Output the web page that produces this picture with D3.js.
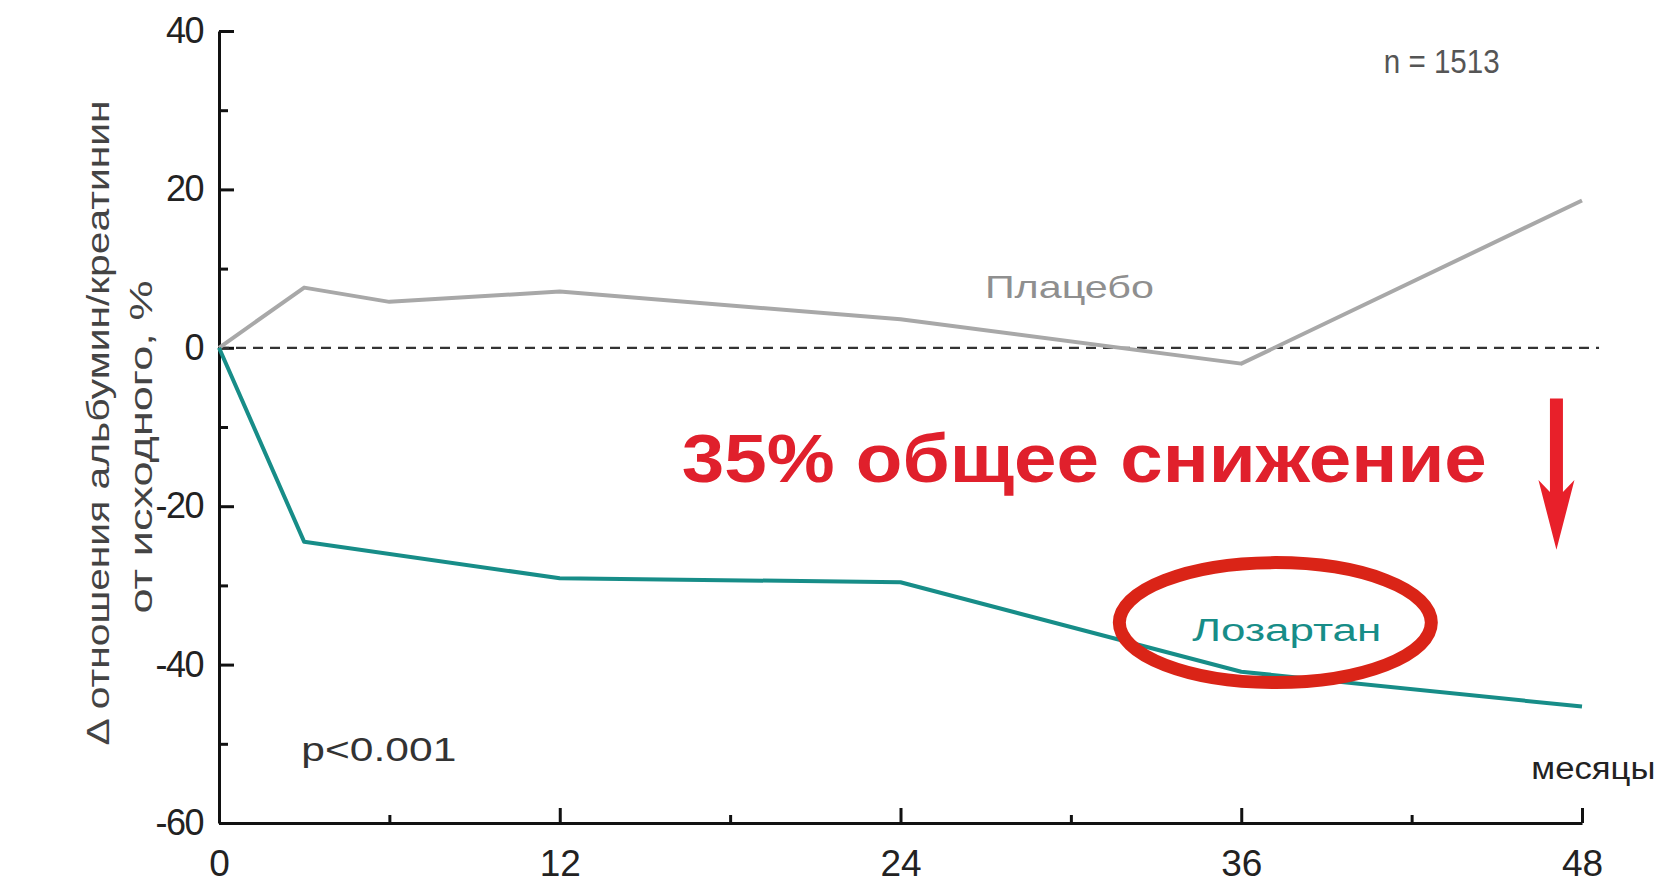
<!DOCTYPE html>
<html>
<head>
<meta charset="utf-8">
<script src="https://cdn.jsdelivr.net/npm/d3@7"></script>
<style>
  body { margin: 0; background: #fff; }
  svg { display: block; }
  text { font-family: "Liberation Sans", Arial, sans-serif; }
</style>
</head>
<body>
<script>
var width = 1659,
    height = 885;

// data
var months = [0, 3, 6, 12, 24, 36, 48];
var placebo = [0, 7.6, 5.8, 7.1, 3.6, -2.0, 18.6];
var losartanMonths = [0, 3, 12, 24, 36, 48];
var losartan = [0, -24.5, -29.1, -29.6, -40.9, -45.3];
var xMajorTicks = [0, 12, 24, 36, 48];
var xMinorTicks = [6, 18, 30, 42];
var yMajorTicks = [-60, -40, -20, 0, 20, 40];
var yMinorTicks = [-50, -30, -10, 10, 30];

var svg = d3.select('body')
    .append('svg')
    .attr('width', width)
    .attr('height', height);

var x = d3.scaleLinear().domain([0, 48]).range([219, 1582]);
var y = d3.scaleLinear().domain([-60, 40]).range([823, 31]);

//minor ticks first, so the major axes draw over them
svg.append("g")
    .attr("transform", "translate(0," + y(-60) + ")")
    .call(d3.axisBottom(x).tickValues(xMinorTicks).tickSizeInner(-8).tickSizeOuter(0).tickFormat(""))
    .call(function (g) { g.select(".domain").remove(); })
    .selectAll("line").attr("stroke", "#111").attr("stroke-width", 3);

svg.append("g")
    .attr("transform", "translate(" + x(0) + ",0)")
    .call(d3.axisLeft(y).tickValues(yMinorTicks).tickSizeInner(-9).tickSizeOuter(0).tickFormat(""))
    .call(function (g) { g.select(".domain").remove(); })
    .selectAll("line").attr("stroke", "#111").attr("stroke-width", 3);

//major axes, ticks pointing inward
var plainNumber = function (d) { return String(d); };

var xAxis = svg.append("g")
    .attr("transform", "translate(0," + y(-60) + ")")
    .call(d3.axisBottom(x).tickValues(xMajorTicks).tickSizeInner(-15).tickSizeOuter(0)
        .tickPadding(27).tickFormat(plainNumber));

var yAxis = svg.append("g")
    .attr("transform", "translate(" + x(0) + ",0)")
    .call(d3.axisLeft(y).tickValues(yMajorTicks).tickSizeInner(-15).tickSizeOuter(0)
        .tickPadding(16).tickFormat(plainNumber));

[xAxis, yAxis].forEach(function (g) {
    g.select(".domain").attr("stroke", "#111").attr("stroke-width", 3);
    g.selectAll(".tick line").attr("stroke", "#111").attr("stroke-width", 3);
    g.selectAll(".tick text")
        .attr("fill", "#222")
        .style("font-size", "37px")
        .style("font-family", "'Liberation Sans', Arial, sans-serif");
});
yAxis.selectAll(".tick text").style("font-size", "36px").style("letter-spacing", "-1.5px");

//baseline at zero
svg.append("line")
    .attr("x1", x(0))
    .attr("x2", x(48.6))
    .attr("y1", y(0))
    .attr("y2", y(0))
    .attr("stroke", "#333")
    .attr("stroke-width", 2.2)
    .attr("stroke-dasharray", "10,7");

var line = d3.line()
    .x(function (d) { return x(d[0]); })
    .y(function (d) { return y(d[1]); });

svg.append("path")
    .attr("d", line(d3.zip(months, placebo)))
    .attr("fill", "none")
    .attr("stroke", "#a8a8a8")
    .attr("stroke-width", 4)
    .attr("stroke-linejoin", "round");

svg.append("path")
    .attr("d", line(d3.zip(losartanMonths, losartan)))
    .attr("fill", "none")
    .attr("stroke", "#178d88")
    .attr("stroke-width", 4)
    .attr("stroke-linejoin", "round");

//labels inside the plot
var label = function (mx, vy, txt, size, color, len) {
    return svg.append("text")
        .attr("x", x(mx))
        .attr("y", y(vy))
        .attr("text-anchor", "middle")
        .attr("dominant-baseline", "central")
        .attr("fill", color)
        .attr("textLength", len)
        .attr("lengthAdjust", "spacingAndGlyphs")
        .style("font-size", size + "px")
        .text(txt);
};

label(43.06, 36.1, "n = 1513", 33, "#555", 116);
label(29.95, 7.7, "Плацебо", 32, "#8f8f8f", 169);
label(37.6, -35.7, "Лозартан", 31, "#178d88", 189);
label(5.63, -50.7, "p<0.001", 33, "#333", 155);
label(48.4, -53.1, "месяцы", 31, "#222", 124);

//big red note
svg.append("text")
    .attr("x", x(16.3))
    .attr("y", y(-13.9))
    .attr("dominant-baseline", "central")
    .attr("fill", "#e0202c")
    .attr("textLength", 805)
    .attr("lengthAdjust", "spacingAndGlyphs")
    .style("font-size", "68px")
    .style("font-weight", "700")
    .text("35% общее снижение");

//red arrow pointing down
var ax = x(47.1), ay0 = y(-6.4), ay1 = y(-25.5), ahead = y(-16.7);
svg.append("path")
    .attr("d", "M" + (ax - 6.5) + "," + ay0 + "L" + (ax + 6.5) + "," + ay0 +
        "L" + (ax + 6.5) + "," + (ahead + 12) + "L" + (ax + 18) + "," + ahead +
        "L" + ax + "," + ay1 + "L" + (ax - 18) + "," + ahead +
        "L" + (ax - 6.5) + "," + (ahead + 12) + "Z")
    .attr("fill", "#e8202a");

//red ellipse round the losartan label
svg.append("ellipse")
    .attr("cx", x(37.2))
    .attr("cy", y(-34.7))
    .attr("rx", 156)
    .attr("ry", 60)
    .attr("fill", "none")
    .attr("stroke", "#da2417")
    .attr("stroke-width", 13);

//y axis title, two lines
svg.append("text")
    .attr("transform", "translate(98,423) rotate(-90)")
    .attr("text-anchor", "middle")
    .attr("dominant-baseline", "central")
    .attr("fill", "#444")
    .attr("textLength", 645)
    .attr("lengthAdjust", "spacingAndGlyphs")
    .style("font-size", "32px")
    .text("Δ отношения альбумин/креатинин");

svg.append("text")
    .attr("transform", "translate(141,447) rotate(-90)")
    .attr("text-anchor", "middle")
    .attr("dominant-baseline", "central")
    .attr("fill", "#444")
    .attr("textLength", 333)
    .attr("lengthAdjust", "spacingAndGlyphs")
    .style("font-size", "32px")
    .text("от исходного,  %");
</script>
</body>
</html>
